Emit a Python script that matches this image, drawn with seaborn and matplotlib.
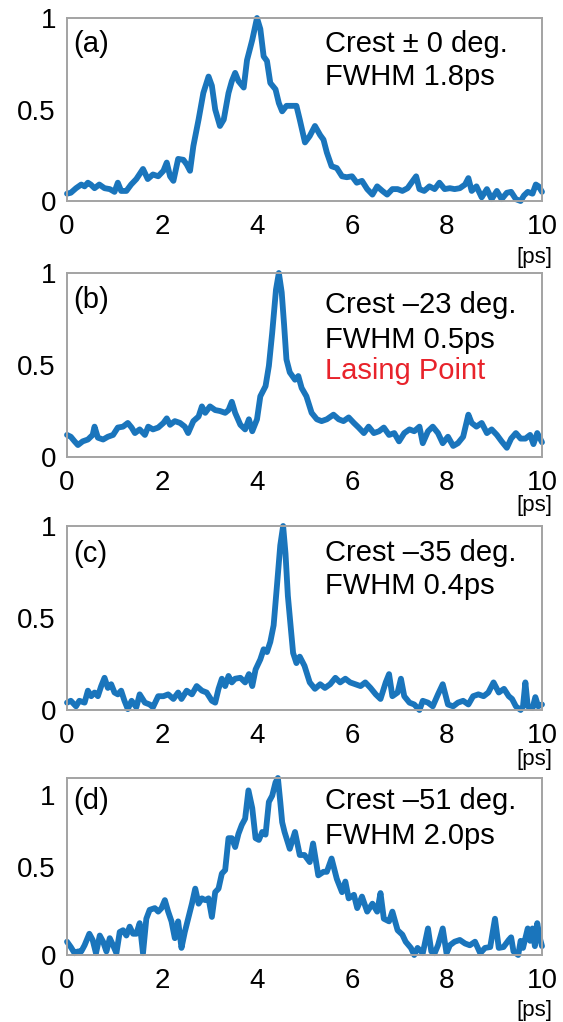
import matplotlib
matplotlib.use('Agg')
import matplotlib.pyplot as plt
import seaborn as sns

# time axis [ps] and normalised intensity
t_a = [0, .08, .19, .3, .37, .44, .5, .58, .68, .79,
       .9, 1.0, 1.07, 1.14, 1.25, 1.35, 1.46, 1.6, 1.7, 1.81,
       1.92, 2.03, 2.1, 2.17, 2.24, 2.34, 2.45, 2.52, 2.59, 2.66,
       2.77, 2.87, 2.98, 3.05, 3.12, 3.22, 3.3, 3.4, 3.47, 3.54,
       3.61, 3.72, 3.79, 3.9, 4.0, 4.07, 4.14, 4.21, 4.28, 4.39,
       4.46, 4.53, 4.62, 4.72, 4.83, 4.9, 5.01, 5.11, 5.22, 5.33,
       5.4, 5.47, 5.57, 5.68, 5.79, 5.89, 6.0, 6.1, 6.21, 6.32,
       6.43, 6.53, 6.64, 6.74, 6.85, 6.96, 7.06, 7.17, 7.28, 7.35,
       7.42, 7.52, 7.63, 7.74, 7.84, 7.95, 8.06, 8.16, 8.27, 8.38,
       8.45, 8.52, 8.62, 8.73, 8.84, 8.94, 9.05, 9.15, 9.26, 9.35,
       9.45, 9.55, 9.62, 9.7, 9.8, 9.87, 9.93, 10.0]
i_a = [.04, .045, .07, .09, .08, .10, .09, .07, .09, .07,
       .065, .05, .10, .055, .055, .09, .12, .175, .12, .145,
       .135, .165, .21, .135, .11, .23, .225, .20, .165, .30,
       .445, .59, .68, .63, .50, .41, .445, .59, .655, .70,
       .655, .62, .77, .88, 1.0, .94, .79, .765, .645, .61,
       .535, .49, .52, .52, .52, .445, .32, .355, .41, .36,
       .335, .265, .19, .18, .135, .13, .135, .10, .11, .065,
       .035, .08, .055, .035, .065, .065, .055, .07, .11, .135,
       .065, .055, .08, .065, .10, .065, .07, .065, .07, .09,
       .125, .055, .08, .02, .065, .01, .055, .01, .045, .05,
       .01, .0, .03, .05, .04, .09, .08, .05]

t_b = [0, .08, .16, .23, .33, .44, .54, .58, .65, .76,
       .86, .97, 1.07, 1.18, 1.28, 1.36, 1.43, 1.53, 1.64, 1.71,
       1.81, 1.92, 2.03, 2.1, 2.17, 2.27, 2.38, 2.48, 2.55, 2.66,
       2.77, 2.84, 2.91, 3.01, 3.12, 3.22, 3.33, 3.4, 3.47, 3.54,
       3.65, 3.75, 3.83, 3.9, 4.0, 4.07, 4.18, 4.25, 4.32, 4.4,
       4.46, 4.52, 4.57, 4.62, 4.69, 4.8, 4.87, 4.94, 5.04, 5.15,
       5.26, 5.36, 5.47, 5.61, 5.72, 5.82, 5.93, 6.04, 6.14, 6.25,
       6.35, 6.46, 6.57, 6.67, 6.78, 6.89, 6.99, 7.1, 7.21, 7.31,
       7.42, 7.49, 7.6, 7.7, 7.81, 7.91, 8.02, 8.13, 8.23, 8.34,
       8.45, 8.52, 8.62, 8.73, 8.84, 8.94, 9.05, 9.15, 9.26, 9.35,
       9.45, 9.55, 9.65, 9.75, 9.82, 9.9, 10.0]
i_b = [.12, .11, .085, .065, .085, .095, .12, .165, .105, .095,
       .11, .12, .16, .165, .185, .16, .13, .15, .12, .165,
       .15, .16, .185, .21, .175, .195, .185, .165, .13, .195,
       .22, .275, .24, .275, .255, .25, .24, .255, .30, .24,
       .175, .15, .205, .14, .205, .33, .385, .495, .675, .91,
       1.0, .895, .72, .53, .46, .42, .44, .375, .33, .24,
       .205, .195, .205, .23, .205, .195, .215, .185, .16, .13,
       .165, .13, .14, .16, .12, .13, .085, .13, .15, .14,
       .165, .075, .14, .165, .13, .075, .11, .06, .075, .11,
       .23, .185, .165, .185, .13, .15, .12, .085, .05, .1,
       .13, .1, .1, .12, .07, .13, .08]

t_c = [0, .08, .19, .26, .37, .44, .51, .58, .65, .72,
       .79, .86, .93, 1.0, 1.07, 1.14, 1.21, 1.28, 1.36, 1.46,
       1.53, 1.64, 1.74, 1.81, 1.92, 2.03, 2.13, 2.24, 2.34, 2.41,
       2.52, 2.63, 2.73, 2.84, 2.94, 3.05, 3.12, 3.19, 3.26, 3.33,
       3.4, 3.47, 3.54, 3.65, 3.75, 3.83, 3.9, 3.97, 4.07, 4.14,
       4.21, 4.28, 4.35, 4.42, 4.49, 4.55, 4.6, 4.65, 4.71, 4.76,
       4.83, 4.9, 5.0, 5.11, 5.22, 5.33, 5.43, 5.54, 5.65, 5.75,
       5.86, 5.96, 6.07, 6.18, 6.28, 6.39, 6.5, 6.6, 6.71, 6.78,
       6.85, 6.96, 7.03, 7.1, 7.21, 7.31, 7.42, 7.49, 7.6, 7.7,
       7.81, 7.91, 8.02, 8.13, 8.23, 8.34, 8.45, 8.55, 8.66, 8.77,
       8.87, 8.98, 9.09, 9.2, 9.3, 9.37, 9.45, 9.55, 9.6, 9.65,
       9.7, 9.8, 9.86, 9.92, 10.0]
i_c = [.04, .05, .02, .05, .04, .105, .075, .095, .075, .13,
       .175, .12, .14, .095, .085, .105, .05, .005, .05, .015,
       .085, .04, .03, .015, .075, .075, .085, .06, .095, .06,
       .105, .085, .13, .105, .095, .05, .04, .115, .17, .13,
       .185, .15, .17, .175, .15, .195, .13, .22, .275, .33,
       .315, .37, .46, .675, .895, 1.0, .85, .62, .45, .31,
       .255, .29, .24, .15, .115, .14, .12, .14, .175, .15,
       .17, .15, .14, .13, .15, .12, .085, .06, .15, .195,
       .075, .095, .17, .075, .04, .03, .0, .05, .04, .02,
       .085, .14, .03, .02, .04, .05, .03, .075, .085, .075,
       .095, .15, .095, .115, .075, .06, .02, .0, .02, .15,
       .02, .01, .07, .02, .03]

t_d = [0, .08, .16, .23, .3, .37, .47, .54, .61, .69,
       .76, .83, .9, .97, 1.04, 1.11, 1.18, 1.25, 1.32, 1.39,
       1.46, 1.53, 1.6, 1.67, 1.74, 1.85, 1.92, 1.99, 2.06, 2.13,
       2.2, 2.27, 2.34, 2.41, 2.48, 2.55, 2.63, 2.7, 2.77, 2.84,
       2.91, 2.98, 3.05, 3.12, 3.19, 3.26, 3.33, 3.4, 3.47, 3.54,
       3.61, 3.68, 3.75, 3.82, 3.9, 3.97, 4.04, 4.11, 4.18, 4.25,
       4.32, 4.39, 4.44, 4.49, 4.53, 4.58, 4.69, 4.8, 4.9, 5.0,
       5.11, 5.18, 5.29, 5.4, 5.47, 5.57, 5.68, 5.79, 5.86, 5.93,
       6.04, 6.11, 6.21, 6.32, 6.43, 6.53, 6.6, 6.67, 6.78, 6.85,
       6.96, 7.06, 7.13, 7.24, 7.31, 7.38, 7.49, 7.6, 7.67, 7.74,
       7.81, 7.91, 7.99, 8.06, 8.16, 8.27, 8.38, 8.48, 8.59, 8.7,
       8.8, 8.91, 9.01, 9.09, 9.19, 9.3, 9.35, 9.4, 9.5, 9.55,
       9.6, 9.7, 9.75, 9.8, 9.85, 9.9, 9.95, 10.0]
i_d = [.075, .045, .01, .02, .02, .055, .12, .085, .01, .11,
       .075, .02, .095, .055, .01, .13, .14, .11, .16, .12,
       .12, .18, .01, .205, .255, .265, .245, .265, .31, .245,
       .19, .095, .19, .04, .13, .205, .29, .375, .29, .32,
       .31, .32, .215, .355, .375, .46, .48, .66, .66, .61,
       .685, .735, .77, .93, .83, .66, .65, .695, .68, .865,
       .9, .975, 1.0, .865, .75, .695, .60, .695, .565, .565,
       .525, .63, .45, .47, .47, .545, .43, .355, .415, .32,
       .34, .265, .33, .245, .29, .245, .35, .205, .19, .245,
       .14, .115, .075, .04, .0, .04, .01, .15, .02, .01,
       .055, .15, .01, .055, .075, .085, .065, .055, .075, .01,
       .04, .045, .205, .04, .045, .085, .1, .02, .0, .08,
       .04, .15, .08, .15, .05, .18, .1, .05]

panel_tags = ['(a)', '(b)', '(c)', '(d)']
crest_text = ['Crest \u00b1 0 deg.', 'Crest \u201323 deg.', 'Crest \u201335 deg.', 'Crest \u201351 deg.']
fwhm_text = ['FWHM 1.8ps', 'FWHM 0.5ps', 'FWHM 0.4ps', 'FWHM 2.0ps']
x_ticks = [0, 2, 4, 6, 8, 10]
y_ticks = [0, 0.5, 1]
y_ticklabels = ['0', '0.5', '1']

traces = [(t_a, i_a), (t_b, i_b), (t_c, i_c), (t_d, i_d)]
for t, v in traces:
    assert len(t) == len(v)

sns.set_style('white')
plt.rcParams['font.family'] = ['Liberation Sans', 'DejaVu Sans']
plt.rcParams['text.color'] = 'black'

W, H = 563, 1022
fig = plt.figure(figsize=(W / 100, H / 100), dpi=100)

# axes boxes in pixels: (top, bottom)
boxes = [(18, 201), (273, 457), (526, 710), (778, 955)]
left_px, right_px = 67, 542
# baselines below the top of each box, and the [ps] label below the box
tag_base = [34, 35, 36, 31]
text_base = [[34, 67], [40, 75, 106], [35, 68], [31, 66]]
ps_off = [57, 49, 49, 55]

line_color = '#1a75bc'
frame_color = '#a3a3a3'

for k, (t, v) in enumerate(traces):
    top, bot = boxes[k]
    ax = fig.add_axes([left_px / W, 1 - bot / H, (right_px - left_px) / W, (bot - top) / H])
    sns.lineplot(x=t, y=v, ax=ax, color=line_color, linewidth=4.2,
                 estimator=None, sort=False, clip_on=False,
                 solid_joinstyle='round', solid_capstyle='round')
    ax.set_xlim(0, 10)
    ax.set_ylim(0, 1)
    ax.set_xticks(x_ticks)
    ax.set_yticks(y_ticks)
    if k == 3:
        ax.set_yticklabels(['0', '0.5', ''])
        ax.annotate('1', xy=(0, 1), xycoords='axes fraction', xytext=(-12, -20),
                    textcoords='offset pixels', ha='right', va='center', fontsize=20)
    else:
        ax.set_yticklabels(y_ticklabels)
    ax.set_xlabel('')
    ax.set_ylabel('')
    for s in ax.spines.values():
        s.set_color(frame_color)
        s.set_linewidth(1.4)
    ax.tick_params(axis='both', direction='out', length=4, width=1.4,
                   color=frame_color, labelsize=20, labelcolor='black', pad=4)
    ax.tick_params(axis='x', pad=5)

    ax.annotate(panel_tags[k], xy=(0, 1), xycoords='axes fraction',
                xytext=(6, -tag_base[k]), textcoords='offset pixels',
                ha='left', va='baseline', fontsize=21, color='black')
    lines = [crest_text[k], fwhm_text[k]]
    colors = ['black', 'black']
    if k == 1:
        lines.append('Lasing Point')
        colors.append('#e8232b')
    for j, txt in enumerate(lines):
        ax.annotate(txt, xy=(0, 1), xycoords='axes fraction',
                    xytext=(258, -text_base[k][j]), textcoords='offset pixels',
                    ha='left', va='baseline', fontsize=21, color=colors[j])
    ax.annotate('[ps]', xy=(1, 0), xycoords='axes fraction',
                xytext=(10, -ps_off[k]), textcoords='offset pixels',
                ha='right', va='center', fontsize=16, color='black')

fig.savefig('out.png', dpi=100)
